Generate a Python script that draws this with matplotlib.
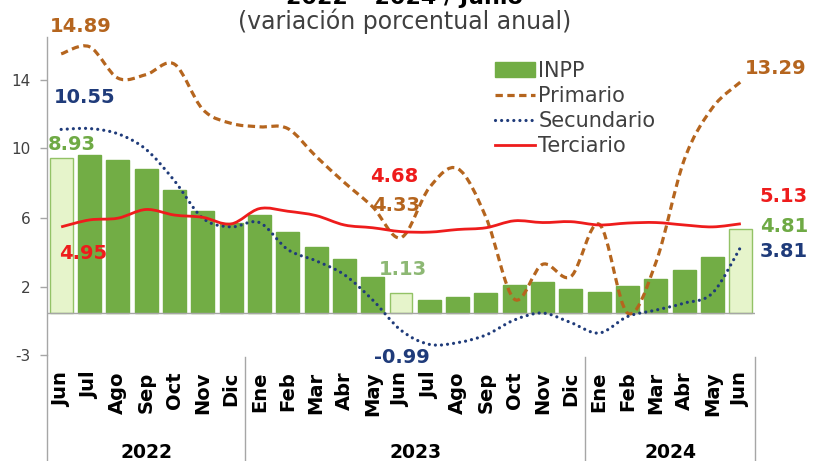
import numpy as np
import matplotlib
matplotlib.use('Agg')
import matplotlib.pyplot as plt
from matplotlib.path import Path
from matplotlib.patches import PathPatch, Patch
from matplotlib.lines import Line2D
from matplotlib.transforms import blended_transform_factory

# ---------------- data ----------------
months = ['Jun', 'Jul', 'Ago', 'Sep', 'Oct', 'Nov', 'Dic',
          'Ene', 'Feb', 'Mar', 'Abr', 'May', 'Jun', 'Jul', 'Ago', 'Sep', 'Oct', 'Nov', 'Dic',
          'Ene', 'Feb', 'Mar', 'Abr', 'May', 'Jun']
years = ['2022', '2023', '2024']
year_sizes = [7, 12, 6]

inpp = [8.93, 9.10, 8.80, 8.30, 7.07, 5.86, 5.15, 5.63, 4.65, 3.80, 3.10, 2.10,
        1.13, 0.75, 0.93, 1.13, 1.60, 1.77, 1.37, 1.20, 1.55, 1.95, 2.47, 3.22, 4.81]
primario = [14.89, 15.30, 13.50, 13.70, 14.30, 11.70, 10.90, 10.70, 10.60, 9.00, 7.50, 6.10,
            4.33, 7.20, 8.30, 5.50, 0.80, 2.80, 2.10, 5.10, 0.00, 2.90, 8.80, 11.80, 13.29]
secundario = [10.55, 10.60, 10.30, 9.40, 7.60, 5.45, 4.95, 5.20, 3.65, 3.00, 2.20, 0.75,
              -0.99, -1.80, -1.70, -1.26, -0.40, 0.00, -0.55, -1.15, -0.20, 0.17, 0.57, 1.15, 3.81]
terciario = [4.95, 5.35, 5.45, 5.95, 5.63, 5.50, 5.12, 6.00, 5.85, 5.60, 5.06, 4.90,
             4.68, 4.65, 4.80, 4.90, 5.30, 5.20, 5.25, 5.06, 5.17, 5.20, 5.06, 4.95, 5.13]

series_names = ['INPP', 'Primario', 'Secundario', 'Terciario']
ytick_labels = ['14', '10', '6', '2', '-3']
title_line1 = '2022 – 2024 / Junio'
title_line2 = '(variación porcentual anual)'

# ---------------- style ----------------
GREEN = '#72AD45'
LIGHT = '#E6F4CB'
LIGHT_EDGE = '#93C266'
BROWN = '#B5651E'
NAVY = '#1F3B7A'
RED = '#EE1C1C'
GREY = '#A6A6A6'
TXT = '#404040'

W, H = 814, 461
fig = plt.figure(figsize=(W / 100, H / 100), dpi=100)
ax = fig.add_axes([47 / W, 1 - 355 / H, 708 / W, 318 / H])

x = np.arange(len(months))
highlight = {0, 12, 24}
fc = [LIGHT if i in highlight else GREEN for i in x]
ec = [LIGHT_EDGE if i in highlight else GREEN for i in x]
ax.bar(x, inpp, width=0.81, color=fc, edgecolor=ec, linewidth=1.0, zorder=2)

ax.axhline(0, color=GREY, lw=1.0, zorder=2.2)


def smooth_path(xv, yv):
    pts = np.column_stack([xv, yv]).astype(float)
    n = len(pts)
    verts = [pts[0]]
    codes = [Path.MOVETO]
    for i in range(n - 1):
        p0 = pts[i - 1] if i > 0 else pts[i]
        p1 = pts[i]
        p2 = pts[i + 1]
        p3 = pts[i + 2] if i + 2 < n else pts[i + 1]
        c1 = p1 + (p2 - p0) / 6.0
        c2 = p2 - (p3 - p1) / 6.0
        verts += [c1, c2, p2]
        codes += [Path.CURVE4] * 3
    return Path(verts, codes)


ax.add_patch(PathPatch(smooth_path(x, primario), fill=False, edgecolor=BROWN, lw=2.3,
                       linestyle=(0, (2.3, 1.4)), capstyle='butt', zorder=3))
ax.add_patch(PathPatch(smooth_path(x, secundario), fill=False, edgecolor=NAVY, lw=2.3,
                       linestyle=(0, (0.01, 1.9)), capstyle='round', zorder=3.1))
ax.add_patch(PathPatch(smooth_path(x, terciario), fill=False, edgecolor=RED, lw=2.0,
                       linestyle='-', zorder=3.2))

ax.set_xlim(-0.5, len(months) - 0.5)
ax.set_ylim(-2.41, 15.86)

# y axis (tick positions match the reference's drawn axis)
ax.set_yticks([13.39, 9.48, 5.46, 1.49, -2.41])
ax.set_yticklabels(ytick_labels, fontsize=11, color=TXT)
ax.tick_params(axis='y', length=5, width=1, color=GREY, pad=7)
ax.set_xticks(x)
ax.set_xticklabels(months, rotation=90, fontsize=14, fontweight='bold', color='black')
ax.tick_params(axis='x', length=0, pad=12)
for s in ['top', 'right', 'bottom']:
    ax.spines[s].set_visible(False)
ax.spines['left'].set_color(GREY)
ax.spines['left'].set_linewidth(1.0)

# group separators and year labels
bt = blended_transform_factory(ax.transData, fig.transFigure)
bounds = np.concatenate([[0], np.cumsum(year_sizes)]) - 0.5
for k, b in enumerate(bounds):
    ytop = 1 - 355 / H if k == 0 else 1 - 357 / H
    fig.add_artist(Line2D([b, b], [0, ytop], transform=bt, color=GREY, lw=1.0, clip_on=False))
for k, yr in enumerate(years):
    cx = (bounds[k] + bounds[k + 1]) / 2
    ax.text(cx, 1 - 452 / H, yr, transform=bt, ha='center', va='center',
            fontsize=13.5, fontweight='bold', color='black')

# data labels: (index, value, text, color, dx px, dy px)
labels = [
    (0, primario[0], f'{primario[0]:.2f}', BROWN, 20, 27),
    (0, secundario[0], f'{secundario[0]:.2f}', NAVY, 23, 32),
    (0, inpp[0], f'{inpp[0]:.2f}', '#6FAA45', 11, 13),
    (0, terciario[0], f'{terciario[0]:.2f}', RED, 22, -27),
    (12, terciario[12], f'{terciario[12]:.2f}', RED, -7, 55),
    (12, primario[12], f'{primario[12]:.2f}', BROWN, -5, 32),
    (12, inpp[12], f'{inpp[12]:.2f}', '#8DB874', 2, 24),
    (12, secundario[12], f'{secundario[12]:.2f}', NAVY, 1, -27),
    (24, primario[24], f'{primario[24]:.2f}', BROWN, 35, 13),
    (24, terciario[24], f'{terciario[24]:.2f}', RED, 43, 27),
    (24, inpp[24], f'{inpp[24]:.2f}', '#6FAA45', 43, 3),
    (24, secundario[24], f'{secundario[24]:.2f}', NAVY, 43, -5),
]
for i, v, t, c, dx, dy in labels:
    ax.annotate(t, xy=(i, v), xytext=(dx, dy), textcoords='offset pixels',
                ha='center', va='center', fontsize=14, fontweight='bold', color=c,
                zorder=5, annotation_clip=False)

# legend
handles = [
    Patch(facecolor=GREEN, edgecolor=GREEN),
    Line2D([], [], color=BROWN, lw=2.3, linestyle=(0, (2.3, 1.4)), dash_capstyle='butt'),
    Line2D([], [], color=NAVY, lw=2.3, linestyle=(0, (0.01, 1.9)), dash_capstyle='round'),
    Line2D([], [], color=RED, lw=2.0),
]
leg = fig.legend(handles, series_names, loc='upper left',
                 bbox_to_anchor=(495 / W, 1 - 61 / H), frameon=False,
                 fontsize=15, handlelength=1.92, handletextpad=0.15,
                 labelspacing=0.24, borderpad=0, borderaxespad=0)
for t in leg.get_texts():
    t.set_color(TXT)

# titles
fig.text(404 / W, 1 - 4 / H, title_line1, ha='center', va='baseline',
         fontsize=16, fontweight='bold', color='black')
fig.text(405 / W, 1 - 21 / H, title_line2, ha='center', va='center',
         fontsize=17, color=TXT)

fig.savefig('out.png', dpi=100)
